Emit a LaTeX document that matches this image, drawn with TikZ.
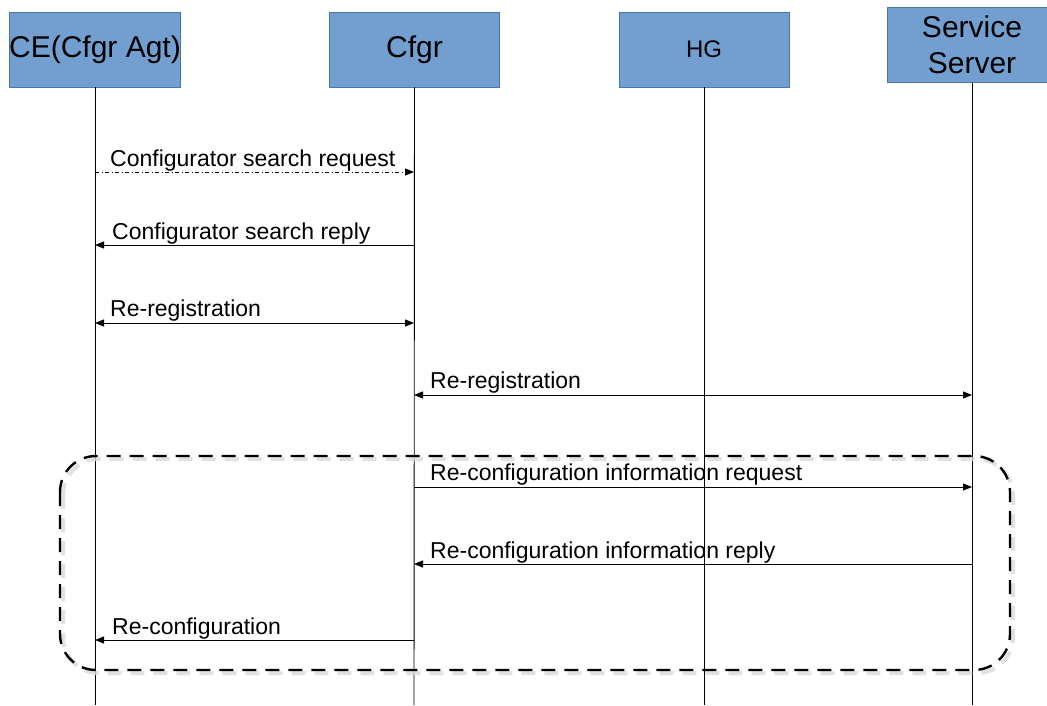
\documentclass[tikz,border=0pt]{standalone}
\usepackage{fontspec}
\setmainfont{Liberation Sans}
\usetikzlibrary{arrows.meta}
\definecolor{boxfill}{HTML}{729FCF}
\definecolor{boxline}{HTML}{4A76AE}
\begin{document}
\begin{tikzpicture}[x=1pt,y=-1pt,
  actor/.style={draw=boxline,fill=boxfill,line width=0.8pt,minimum width=170pt,minimum height=75pt,inner sep=0pt,align=center,font=\fontsize{30}{36}\selectfont},
  life/.style={line width=0.9pt},
  msg/.style={line width=0.9pt},
  tip/.style={-{Triangle[length=9pt,width=7pt]}},
  tips/.style={{Triangle[length=9pt,width=7pt]}-{Triangle[length=9pt,width=7pt]}},
  lbl/.style={anchor=south west,inner sep=0pt,font=\fontsize{23}{26}\selectfont},
  frame/.style={line width=2.4pt,dash pattern=on 14pt off 9pt,rounded corners=36pt}]
\useasboundingbox (0,0) rectangle (1047,705);
\begin{scope}
\clip (0,0) rectangle (1047,705);
% participants
\node[actor] (ce) at (95,49.5) {CE(Cfgr Agt)};
\node[actor] (cf) at (414.5,49.5) {Cfgr};
\node[actor,font=\fontsize{24}{28}\selectfont] (hg) at (704,49.5) {HG};
\node[actor] (ss) at (972,45) {Service\\Server};
% lifelines
\coordinate (ceb) at (95,705);
\coordinate (cfb) at (414,705);
\coordinate (hgb) at (704,705);
\coordinate (ssb) at (972,705);
\draw[life] (ce.south) -- (ceb);
\draw[life] (cf.south) -- (cfb);
\draw[life] (hg.south) -- (hgb);
\draw[life] (ss.south) -- (ssb);
% message anchor points on the lifelines
\foreach \n/\y in {1/172,2/245,3/323,4/395,5/487,6/564,7/640}{
  \coordinate (ce\n) at (95,\y);
  \coordinate (cf\n) at (414,\y);
  \coordinate (ss\n) at (972,\y);
}
% grouping frame with soft shadow
\draw[frame,line width=4pt,black!15,opacity=0.8] (63,459) rectangle (1013,673);
\draw[frame] (60,456) rectangle (1010,670);
% messages
\draw[msg,tip,dash pattern=on 4pt off 2.5pt on 1pt off 2.5pt] (ce1) -- (cf1);
\node[lbl] (l1) at (110,171) {Configurator search request};
\draw[msg,tip] (cf2) -- (ce2);
\node[lbl] (l2) at (112,244) {Configurator search reply};
\draw[msg,tips] (ce3) -- (cf3);
\node[lbl] (l3) at (110,321) {Re-registration};
\draw[msg,tips] (cf4) -- (ss4);
\node[lbl] (l4) at (430,393) {Re-registration};
\draw[msg,tip] (cf5) -- (ss5);
\node[lbl] (l5) at (430,485) {Re-configuration information request};
\draw[msg,tip] (ss6) -- (cf6);
\node[lbl] (l6) at (430,563) {Re-configuration information reply};
\draw[msg,tip] (cf7) -- (ce7);
\node[lbl] (l7) at (112,639) {Re-configuration};
\end{scope}
\end{tikzpicture}
\end{document}
